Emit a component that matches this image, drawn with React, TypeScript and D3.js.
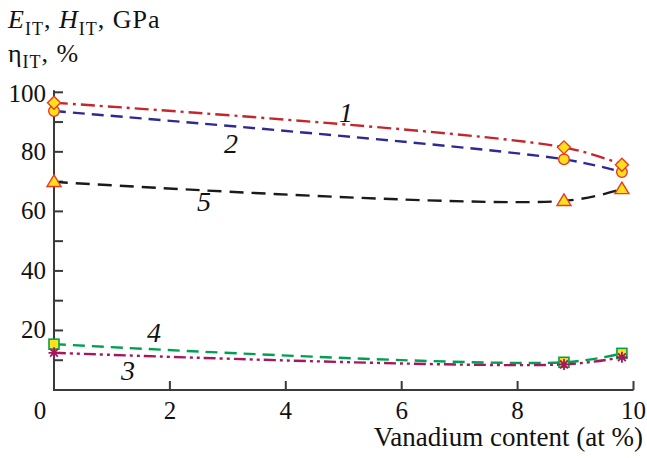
import React from "react";
import * as d3 from "d3";

const xValues = [0, 8.8, 9.8];
const series1 = [96.5, 81.5, 75.7]; // red dash-dot, diamonds
const series2 = [93.7, 77.5, 73.2]; // blue dashed, circles
const series5 = [69.9, 63.5, 67.5]; // black dashed, triangles
const series4 = [15.4, 9.3, 12.3]; // green dashed, squares
const series3 = [12.5, 8.6, 11.0]; // magenta dash-dot-dot, asterisks
const xTicks = [0, 2, 4, 6, 8, 10];
const yTicks = [20, 40, 60, 80, 100];
const yMinorTicks = [10, 20, 30, 40, 50, 60, 70, 80, 90, 100];

const W = 647;
const H = 458;
const x = d3.scaleLinear().domain([0, 10]).range([54, 633.5]);
const y = d3.scaleLinear().domain([0, 100]).range([390, 92.3]);

const FONT = "Liberation Serif, DejaVu Serif, serif";

type S = {
  vals: number[];
  color: string;
  dash: string;
  marker: "diamond" | "circle" | "triangle" | "square" | "star";
  label: string;
  lx: number;
  ly: number;
};

const seriesList: S[] = [
  { vals: series5, color: "#1a1a1a", dash: "14 8", marker: "triangle", label: "5", lx: 204, ly: 211 },
  { vals: series2, color: "#2e2a92", dash: "12 7", marker: "circle", label: "2", lx: 231, ly: 153 },
  { vals: series1, color: "#c4262e", dash: "14 5 3 5", marker: "diamond", label: "1", lx: 346, ly: 122 },
  { vals: series4, color: "#00a052", dash: "12 7", marker: "square", label: "4", lx: 154, ly: 342 },
  { vals: series3, color: "#a3195b", dash: "12 4 3 4 3 4", marker: "star", label: "3", lx: 128, ly: 380 },
];

const line = d3
  .line<[number, number]>()
  .x((d) => x(d[0]))
  .y((d) => y(d[1]))
  .curve(d3.curveCatmullRom.alpha(0.5));

function Marker({ m, cx, cy }: { m: S["marker"]; cx: number; cy: number }) {
  const fill = "#ffe11a";
  const stroke = "#e8392a";
  if (m === "diamond") {
    const r = 6.5;
    return (
      <path
        d={`M${cx},${cy - r}L${cx + r},${cy}L${cx},${cy + r}L${cx - r},${cy}Z`}
        fill={fill}
        stroke={stroke}
        strokeWidth={1.4}
      />
    );
  }
  if (m === "circle") {
    return <circle cx={cx} cy={cy} r={5.3} fill={fill} stroke={stroke} strokeWidth={1.4} />;
  }
  if (m === "triangle") {
    const r = 7;
    return (
      <path
        d={`M${cx},${cy - r}L${cx + r},${cy + r * 0.65}L${cx - r},${cy + r * 0.65}Z`}
        fill={fill}
        stroke={stroke}
        strokeWidth={1.4}
      />
    );
  }
  if (m === "square") {
    const r = 5;
    return (
      <rect
        x={cx - r}
        y={cy - r}
        width={2 * r}
        height={2 * r}
        fill={fill}
        stroke="#00a052"
        strokeWidth={1.6}
      />
    );
  }
  const r = 5.5;
  const pts = [0, 45, 90, 135].map((a) => {
    const t = (a * Math.PI) / 180;
    return `M${cx - r * Math.cos(t)},${cy - r * Math.sin(t)}L${cx + r * Math.cos(t)},${cy + r * Math.sin(t)}`;
  });
  return <path d={pts.join("")} stroke="#a3195b" strokeWidth={1.8} fill="none" />;
}

export default function App() {
  return (
    <svg
      width={W}
      height={H}
      viewBox={`0 0 ${W} ${H}`}
      style={{ position: "absolute", left: 0, top: 0, background: "#fff", fontFamily: FONT }}
    >
      {/* axes */}
      <g stroke="#3a3a3a" strokeWidth={2} fill="none">
        <path d={`M${x(0)},${y(100) - 2}V${y(0)}H${x(10)}`} />
        {yMinorTicks.map((t) => (
          <line key={"yt" + t} x1={x(0)} x2={x(0) + 9} y1={y(t)} y2={y(t)} />
        ))}
        {xTicks
          .filter((t) => t > 0)
          .map((t) => (
            <line key={"xt" + t} x1={x(t)} x2={x(t)} y1={y(0)} y2={y(0) - 9} />
          ))}
      </g>
      {/* tick labels */}
      <g fill="#111" style={{ fontSize: 25, fontFamily: FONT }}>
        {yTicks.map((t) => (
          <text key={"yl" + t} x={x(0) - 8} y={y(t) + (t === 100 ? 10 : 8)} textAnchor="end">
            {t}
          </text>
        ))}
        {xTicks.map((t) => (
          <text key={"xl" + t} x={t === 0 ? x(0) - 14 : x(t)} y={419} textAnchor="middle">
            {t}
          </text>
        ))}
        <text x={643} y={446} textAnchor="end" style={{ fontSize: 27 }}>
          Vanadium content (at %)
        </text>
      </g>
      {/* y title */}
      <g fill="#111" style={{ fontFamily: FONT, letterSpacing: 1 }}>
        <text x={8} y={28} style={{ fontSize: 26 }}>
          <tspan fontStyle="italic">E</tspan>
          <tspan style={{ fontSize: 18 }} dy={7}>IT</tspan>
          <tspan dy={-7}>, </tspan>
          <tspan fontStyle="italic">H</tspan>
          <tspan style={{ fontSize: 18 }} dy={7}>IT</tspan>
          <tspan dy={-7}>, GPa</tspan>
        </text>
        <text x={8} y={62} style={{ fontSize: 26 }}>
          <tspan>η</tspan>
          <tspan style={{ fontSize: 18 }} dy={6}>IT</tspan>
          <tspan dy={-6}>, %</tspan>
        </text>
      </g>
      {/* lines */}
      {seriesList.map((s, i) => (
        <path
          key={"ln" + i}
          d={line(xValues.map((xv, j) => [xv, s.vals[j]] as [number, number])) || ""}
          fill="none"
          stroke={s.color}
          strokeWidth={2.4}
          strokeDasharray={s.dash}
        />
      ))}
      {/* markers */}
      {seriesList.map((s, i) => (
        <g key={"mk" + i}>
          {xValues.map((xv, j) => (
            <Marker key={j} m={s.marker} cx={x(xv)} cy={y(s.vals[j])} />
          ))}
        </g>
      ))}
      {/* labels */}
      <g fill="#111" style={{ fontSize: 28, fontStyle: "italic", fontFamily: FONT }}>
        {seriesList.map((s, i) => (
          <text key={"lb" + i} x={s.lx} y={s.ly} textAnchor="middle">
            {s.label}
          </text>
        ))}
      </g>
    </svg>
  );
}
